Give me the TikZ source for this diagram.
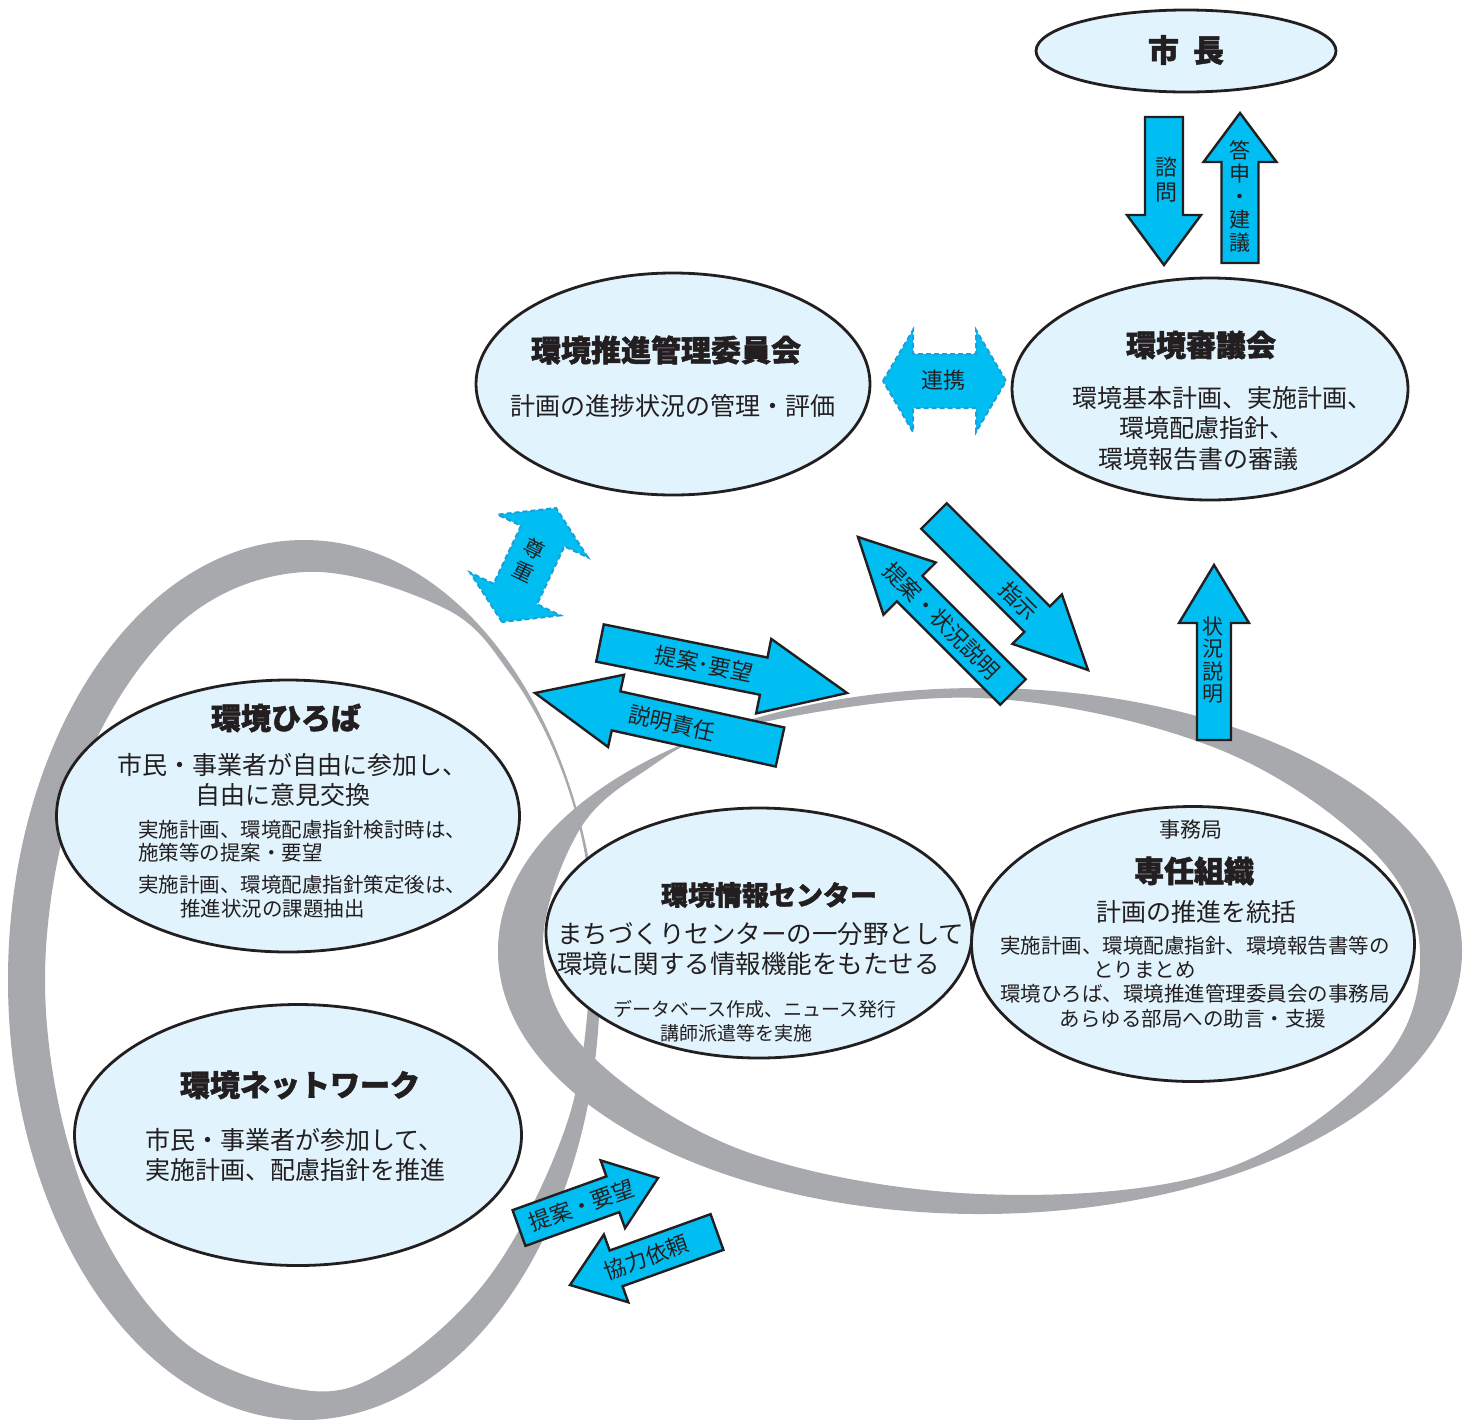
\documentclass[tikz,border=0pt]{standalone}
\usepackage{fontspec}
\setmainfont{Noto Sans CJK JP}
\newfontfamily\heavyfont{Noto Sans CJK JP}[BoldFeatures={FakeBold=1.6}]
\usetikzlibrary{shapes.geometric,calc}
\definecolor{ellblue}{HTML}{E1F3FC}
\definecolor{arrowblue}{HTML}{00BEF2}
\definecolor{dashblue}{HTML}{1A9FD9}
\definecolor{ringgray}{HTML}{A7A9AC}
\definecolor{ink}{HTML}{231F20}
\newcommand\blockarrow[6]{%
  \coordinate (ba-b) at ($(#3)!#6!(#2)$);
  \draw[#1] ($(#2)!#4!90:(#3)$) -- ($(ba-b)!#4!-90:(#2)$) -- ($(ba-b)!#5!-90:(#2)$) -- (#3)
    -- ($(ba-b)!#5!90:(#2)$) -- ($(ba-b)!#4!90:(#2)$) -- ($(#2)!#4!-90:(#3)$) -- cycle;
}
\newcommand\dblarrow[6]{%
  \coordinate (da-a) at ($(#2)!#6!(#3)$);
  \coordinate (da-b) at ($(#3)!#6!(#2)$);
  \draw[#1] (#2) -- ($(da-a)!#5!90:(#3)$) -- ($(da-a)!#4!90:(#3)$) -- ($(da-b)!#4!-90:(#2)$)
    -- ($(da-b)!#5!-90:(#2)$) -- (#3) -- ($(da-b)!#5!90:(#2)$) -- ($(da-b)!#4!90:(#2)$)
    -- ($(da-a)!#4!-90:(#3)$) -- ($(da-a)!#5!-90:(#3)$) -- cycle;
}
\tikzset{
  ell/.style={ellipse, draw=ink, line width=2.8pt, fill=ellblue, inner sep=0pt},
  blk/.style={fill=arrowblue, draw=ink, line width=2.4pt, line join=miter},
  dsh/.style={fill=arrowblue, draw=dashblue, line width=2pt, dash pattern=on 5pt off 3pt},
  ttl/.style={font=\fontsize{30}{33}\selectfont\heavyfont\bfseries, text=ink, inner sep=0pt},
  txt/.style={font=\fontsize{25}{28}\selectfont, text=ink, inner sep=0pt},
  sml/.style={font=\fontsize{20.5}{23}\selectfont, text=ink, inner sep=0pt},
  lbl/.style={font=\fontsize{22}{25}\selectfont, text=ink, inner sep=0pt, align=center},
}
\begin{document}
\begin{tikzpicture}[x=1pt,y=-1pt]
\useasboundingbox (0,0) rectangle (1471,1419);
\fill[white] (0,0) rectangle (1471,1419);

% grey rings
\fill[ringgray, even odd rule] (304,980) ellipse [x radius=296, y radius=440]
  plot[smooth cycle, tension=0.6] coordinates {(304,572) (444,608) (509,672) (558,761) (587,867) (590,980) (567,1123) (492,1273) (391,1367) (304,1390) (177,1336) (82,1187) (45,980) (82,773) (178,625)};
\fill[ringgray, even odd rule] (980,951) ellipse [x radius=482, y radius=263]
  plot[smooth cycle, tension=0.6] coordinates {(980,698) (1213,747) (1370,848) (1420,951) (1380,1065) (1219,1171) (980,1194) (747,1152) (590,1054) (543,951) (577,834) (643,772) (740,727)};

% ellipses
\node[ell, minimum width=300pt, minimum height=82pt] (mayor) at (1186,51) {};
\node[ell, minimum width=394pt, minimum height=222pt] (kanri) at (673,384) {};
\node[ell, minimum width=396pt, minimum height=222pt] (shingi) at (1210,389) {};
\node[ell, minimum width=463pt, minimum height=272pt] (hiroba) at (288,816) {};
\node[ell, minimum width=447pt, minimum height=261pt] (network) at (298,1135) {};
\node[ell, minimum width=426pt, minimum height=250pt] (joho) at (759,933) {};
\node[ell, minimum width=443pt, minimum height=275pt] (senin) at (1193,944) {};

% texts
\node[ttl, font=\fontsize{31}{33}\selectfont\heavyfont\bfseries] (t-mayor) at (1186,50) {市\hspace{14pt}長};

\node[ttl] (t-kanri) at (666,350) {環境推進管理委員会};
\node[txt] (t-kanri1) at (673,406) {計画の進捗状況の管理・評価};

\node[ttl] (t-shingi) at (1201,345) {環境審議会};
\node[txt] (t-shingi1) at (1222,398) {環境基本計画、実施計画、};
\node[txt] (t-shingi2) at (1207,428) {環境配慮指針、};
\node[txt] (t-shingi3) at (1198,459) {環境報告書の審議};

\node[ttl] (t-hiroba) at (286,718) {環境ひろば};
\node[txt] (t-hiroba1) at (292,765) {市民・事業者が自由に参加し、};
\node[txt] (t-hiroba2) at (283,795) {自由に意見交換};
\node[sml, anchor=west] (t-hiroba3) at (138,830) {実施計画、環境配慮指針検討時は、};
\node[sml, anchor=west] (t-hiroba4) at (138,853) {施策等の提案・要望};
\node[sml, anchor=west] (t-hiroba5) at (138,885) {実施計画、環境配慮指針策定後は、};
\node[sml, anchor=west] (t-hiroba6) at (180,909) {推進状況の課題抽出};

\node[ttl] (t-network) at (300,1085) {環境ネットワーク};
\node[txt, anchor=west] (t-network1) at (145,1140) {市民・事業者が参加して、};
\node[txt, anchor=west] (t-network2) at (145,1170) {実施計画、配慮指針を推進};

\node[ttl, font=\fontsize{27}{30}\selectfont\heavyfont\bfseries] (t-joho) at (769,895) {環境情報センター};
\node[txt, font=\fontsize{25.5}{28}\selectfont, anchor=west] (t-joho1) at (557,934) {まちづくりセンターの一分野として};
\node[txt, font=\fontsize{25.5}{28}\selectfont, anchor=west] (t-joho2) at (557,964) {環境に関する情報機能をもたせる};
\node[sml, font=\fontsize{19}{22}\selectfont] (t-joho3) at (755,1009) {データベース作成、ニュース発行};
\node[sml, font=\fontsize{19}{22}\selectfont, anchor=west] (t-joho4) at (660,1033) {講師派遣等を実施};

\node[sml, font=\fontsize{21}{23}\selectfont] (t-senin0) at (1191,830) {事務局};
\node[ttl] (t-senin) at (1194,871) {専任組織};
\node[txt] (t-senin1) at (1196,912) {計画の推進を統括};
\node[sml, anchor=west] (t-senin2) at (1000,946) {実施計画、環境配慮指針、環境報告書等の};
\node[sml, anchor=west] (t-senin3) at (1093,970) {とりまとめ};
\node[sml, anchor=west] (t-senin4) at (1000,994) {環境ひろば、環境推進管理委員会の事務局};
\node[sml] (t-senin5) at (1193,1019) {あらゆる部局への助言・支援};

% arrows: coordinates
\coordinate (a1t) at (1164,117); \coordinate (a1h) at (1164,265);
\coordinate (a2t) at (1240,263); \coordinate (a2h) at (1240,113);
\coordinate (a3l) at (883,381); \coordinate (a3r) at (1006,381);
\coordinate (a4l) at (502,622); \coordinate (a4u) at (556,508);
\coordinate (a5t) at (600,643); \coordinate (a5h) at (847,693);
\coordinate (a6t) at (780,747); \coordinate (a6h) at (535,693);
\coordinate (a7t) at (1013,692); \coordinate (a7h) at (858,537);
\coordinate (a8t) at (934,516); \coordinate (a8h) at (1088,670);
\coordinate (a9t) at (1214,740); \coordinate (a9h) at (1214,565);
\coordinate (a10t) at (519,1228); \coordinate (a10h) at (658,1178);
\coordinate (a11t) at (717,1232); \coordinate (a11h) at (570,1285);

\blockarrow{blk}{a1t}{a1h}{19pt}{37pt}{50pt}
\blockarrow{blk}{a2t}{a2h}{18.5pt}{36.5pt}{49pt}
\dblarrow{dsh}{a3l}{a3r}{27pt}{51pt}{30pt}
\dblarrow{dsh}{a4l}{a4u}{24pt}{50pt}{31pt}
\blockarrow{blk}{a5t}{a5h}{19pt}{38pt}{85pt}
\blockarrow{blk}{a6t}{a6h}{20pt}{37pt}{83pt}
\blockarrow{blk}{a7t}{a7h}{18pt}{37pt}{73pt}
\blockarrow{blk}{a8t}{a8h}{18pt}{35pt}{72pt}
\blockarrow{blk}{a9t}{a9h}{17pt}{35pt}{58pt}
\blockarrow{blk}{a10t}{a10h}{19pt}{36pt}{48pt}
\blockarrow{blk}{a11t}{a11h}{19pt}{36pt}{49pt}

% arrow labels
\node[lbl] (l-shimon) at (1166,180) {諮\\問};
\node[lbl, font=\fontsize{21}{23}\selectfont] (l-toshin) at (1240,196) {答\\申\\・\\建\\議};
\node[lbl] (l-renkei) at (943,380) {連携};
\node[lbl, font=\fontsize{21}{26}\selectfont, rotate=-26] (l-sonchou) at (529,560) {尊\\重};
\path (a5t) -- (a5h) node[lbl, sloped, pos=0.42] (l-teian1) {提案･要望};
\path (a6t) -- (a6h) node[lbl, sloped, pos=0.44] (l-setsumei) {説明責任};
\path (a7t) -- (a7h) node[lbl, sloped, pos=0.46] (l-joukyou1) {提案・状況説明};
\path (a8t) -- (a8h) node[lbl, sloped, pos=0.55] (l-shiji) {指示};
\node[lbl, font=\fontsize{21}{22.5}\selectfont] (l-joukyou2) at (1213,660) {状\\況\\説\\明};
\path (a10t) -- (a10h) node[lbl, sloped, pos=0.45] (l-teian2) {提案・要望};
\path (a11t) -- (a11h) node[lbl, sloped, pos=0.48] (l-kyouryoku) {協力依頼};
\end{tikzpicture}
\end{document}
